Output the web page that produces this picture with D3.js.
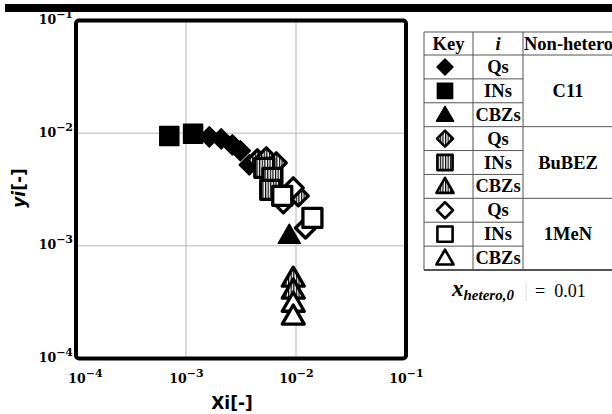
<!DOCTYPE html>
<html><head><meta charset="utf-8">
<script src="https://cdn.jsdelivr.net/npm/d3@7"></script>
<style>body{margin:0;background:#fff}svg{display:block}</style>
</head><body>
<script>
// ---- data ----
const tickValues = [1e-4, 1e-3, 1e-2, 1e-1];
const tickExponents = ["\u22124", "\u22123", "\u22122", "\u22121"];
const C11_Qs   = [[1.63e-3,9.27e-3],[2.09e-3,8.90e-3],[2.64e-3,7.87e-3],[3.12e-3,6.97e-3],[3.76e-3,5.23e-3]];
const C11_INs  = [[7.05e-4,9.46e-3],[1.16e-3,9.86e-3]];
const C11_CBZs = [[8.69e-3,1.20e-3]];
const BuBEZ_Qs   = [[4.45e-3,5.80e-3],[5.37e-3,6.04e-3],[6.62e-3,5.45e-3],[1.05e-2,2.78e-3]];
const BuBEZ_INs  = [[5.15e-3,4.92e-3],[6.10e-3,4.01e-3],[5.83e-3,3.14e-3]];
const BuBEZ_CBZs = [[9.44e-3,4.99e-4],[9.44e-3,3.91e-4]];
const MeN_Qs   = [[7.68e-3,2.41e-3],[9.44e-3,3.27e-3],[1.22e-2,1.44e-3]];
const MeN_INs  = [[7.50e-3,2.78e-3],[1.41e-2,1.77e-3]];
const MeN_CBZs = [[9.44e-3,2.99e-4],[9.44e-3,2.30e-4]];
const compounds = ["Qs","INs","CBZs"];
const solvents = ["C11","BuBEZ","1MeN"];
const xHetero = "0.01";

const series = [
  {data:C11_Qs, shape:"diamond", fill:"filled"},
  {data:C11_INs, shape:"square", fill:"filled"},
  {data:C11_CBZs, shape:"triangle", fill:"filled"},
  {data:BuBEZ_Qs, shape:"diamond", fill:"hatched"},
  {data:BuBEZ_INs, shape:"square", fill:"hatched"},
  {data:BuBEZ_CBZs, shape:"triangle", fill:"hatched"},
  {data:MeN_Qs, shape:"diamond", fill:"open"},
  {data:MeN_INs, shape:"square", fill:"open"},
  {data:MeN_CBZs, shape:"triangle", fill:"open"}
];

const svg = d3.select("body").append("svg").attr("width",612).attr("height",414);
const defs = svg.append("defs");
const pat = defs.append("pattern").attr("id","vh").attr("patternUnits","userSpaceOnUse")
  .attr("width",2.6).attr("height",4);
pat.append("rect").attr("width",2.6).attr("height",4).attr("fill","#fff");
pat.append("rect").attr("width",1.2).attr("height",4).attr("fill","#000");

// top bar
svg.append("rect").attr("x",5).attr("y",4).attr("width",607).attr("height",8).attr("fill","#000");

const L=76, R=406, T=20.5, B=358.5;
const x = d3.scaleLog().domain([1e-4,1e-1]).range([L,R]);
const y = d3.scaleLog().domain([1e-4,1e-1]).range([B,T]);

// grid
const grid = svg.append("g").attr("stroke","#b5b5b5").attr("stroke-width",1);
[1e-3,1e-2].forEach(v=>{
  grid.append("line").attr("x1",x(v)).attr("x2",x(v)).attr("y1",T).attr("y2",B);
  grid.append("line").attr("y1",y(v)).attr("y2",y(v)).attr("x1",L).attr("x2",R);
});

// axes
const xAxis = svg.append("g").attr("transform",`translate(0,${B})`)
  .call(d3.axisBottom(x).tickValues(tickValues).tickSize(0).tickFormat(()=>""));
xAxis.select(".domain").remove();
xAxis.selectAll(".tick").each(function(d,i){
  const t = d3.select(this).append("text").attr("fill","#000").attr("y",24.5)
    .attr("x", i===0 ? 9 : 0)
    .attr("text-anchor","middle").attr("font-family","DejaVu Serif").attr("font-weight","bold");
  t.append("tspan").attr("font-size",12.5).text("10");
  t.append("tspan").attr("font-size",11).attr("dy",-6).text(tickExponents[i]);
});
const yAxis = svg.append("g").attr("transform",`translate(${L},0)`)
  .call(d3.axisLeft(y).tickValues(tickValues).tickSize(0).tickFormat(()=>""));
yAxis.select(".domain").remove();
yAxis.selectAll(".tick").each(function(d,i){
  const t = d3.select(this).append("text").attr("fill","#000").attr("x",-3).attr("y",3)
    .attr("text-anchor","end").attr("font-family","DejaVu Serif").attr("font-weight","bold");
  t.append("tspan").attr("font-size",12.5).text("10");
  t.append("tspan").attr("font-size",11).attr("dy",-6).text(tickExponents[i]);
});

// axis titles
svg.append("text").attr("x",232).attr("y",409).attr("text-anchor","middle")
  .attr("font-family","DejaVu Sans").attr("font-weight","bold").attr("font-size",17).text("Xi[-]");
const yt = svg.append("text").attr("transform","translate(25,188) rotate(-90)").attr("text-anchor","middle")
  .attr("font-family","DejaVu Sans").attr("font-weight","bold").attr("font-size",17);
yt.append("tspan").attr("font-style","italic").text("yi");
yt.append("tspan").text("[-]");

// custom diamond symbol (square rotated 45°, drawn directly so the hatch stays vertical)
const symbolRhomb = {draw(ctx, size){
  const h = Math.sqrt(size)/2;
  ctx.moveTo(0,-h); ctx.lineTo(h,0); ctx.lineTo(0,h); ctx.lineTo(-h,0); ctx.closePath();
}};
function markerPath(shape, scale){
  if(shape==="square") return d3.symbol().type(d3.symbolSquare).size(Math.pow(19*scale,2))();
  if(shape==="diamond") return d3.symbol().type(symbolRhomb).size(Math.pow(20*scale,2))();
  return d3.symbol().type(d3.symbolTriangle).size(Math.pow(22*scale,2)*Math.sqrt(3)/4)();
}
function styleMarker(sel, s, sw){
  sel.attr("d", markerPath(s.shape, s.scale||1))
    .attr("fill", s.fill==="filled" ? "#000" : s.fill==="hatched" ? "url(#vh)" : "#fff")
    .attr("stroke","#000").attr("stroke-width", s.fill==="filled" ? 1.5 : sw)
    .attr("stroke-linejoin","round");
}

// plot markers
const mk = svg.append("g");
series.forEach(s=>{
  mk.selectAll(null).data(s.data).enter().append("path")
    .attr("transform", d=>`translate(${x(d[0])},${y(d[1])})`)
    .call(sel=>styleMarker(sel, s, 3.3));
});

// frame
svg.append("rect").attr("x",L).attr("y",T).attr("width",R-L).attr("height",B-T)
  .attr("fill","none").attr("stroke","#000").attr("stroke-width",4).attr("rx",3);

// legend table
const tb = svg.append("g");
const tL=424, c1=473, c2=523, tR=613, tT=32, hB=55, rowH=(270-55)/9;
const lc = "#555";
tb.append("line").attr("x1",tL).attr("x2",tR).attr("y1",tT).attr("y2",tT).attr("stroke",lc);
tb.append("line").attr("x1",tL).attr("x2",tR).attr("y1",hB).attr("y2",hB).attr("stroke",lc);
[tL,c1,c2].forEach(cx=>tb.append("line").attr("x1",cx).attr("x2",cx).attr("y1",tT).attr("y2",hB+9*rowH).attr("stroke",lc));
for(let r=1;r<=9;r++){
  const yy = hB + r*rowH;
  const full = r%3===0;
  tb.append("line").attr("x1",tL).attr("x2", full?tR:c2).attr("y1",yy).attr("y2",yy)
    .attr("stroke",lc).attr("stroke-width", r===9?2:1);
}
const hdr = (txt, xx, anchor, italic)=>tb.append("text").attr("x",xx).attr("y",tT+17.5)
  .attr("text-anchor",anchor).attr("font-family","Liberation Serif").attr("font-weight","bold")
  .attr("font-style",italic?"italic":"normal").attr("font-size",18.5).text(txt);
hdr("Key",(tL+c1)/2,"middle");
hdr("i",(c1+c2)/2,"middle",true);
hdr("Non-hetero",c2+1,"start");
series.forEach((s,k)=>{
  const cy = hB + (k+0.5)*rowH;
  tb.append("path").attr("transform",`translate(445,${cy + (s.shape==="triangle"?1.5:0)})`)
    .call(sel=>styleMarker(sel, Object.assign({}, s, {scale: s.shape==="triangle"?0.78:0.8}), 2.6));
  tb.append("text").attr("x",(c1+c2)/2).attr("y",cy+6).attr("text-anchor","middle")
    .attr("font-family","Liberation Serif").attr("font-weight","bold").attr("font-size",18.5)
    .text(compounds[k%3]);
});
solvents.forEach((sv,g)=>{
  tb.append("text").attr("x",568).attr("y",hB+(g*3+1.5)*rowH+6).attr("text-anchor","middle")
    .attr("font-family","Liberation Serif").attr("font-weight","bold").attr("font-size",18.5).text(sv);
});

// x_hetero,0 = 0.01
const xh = svg.append("text").attr("x",452).attr("y",296).attr("font-family","Liberation Serif")
  .attr("font-weight","bold").attr("font-style","italic");
xh.append("tspan").attr("font-size",23).text("x");
xh.append("tspan").attr("font-size",15).attr("dy",4).text("hetero,0");
svg.append("line").attr("x1",526).attr("x2",526).attr("y1",282).attr("y2",301).attr("stroke","#ddd");
svg.append("text").attr("x",535).attr("y",297).attr("font-family","Liberation Serif")
  .attr("font-size",18).attr("xml:space","preserve").text("=  " + xHetero);
</script>
</body></html>
